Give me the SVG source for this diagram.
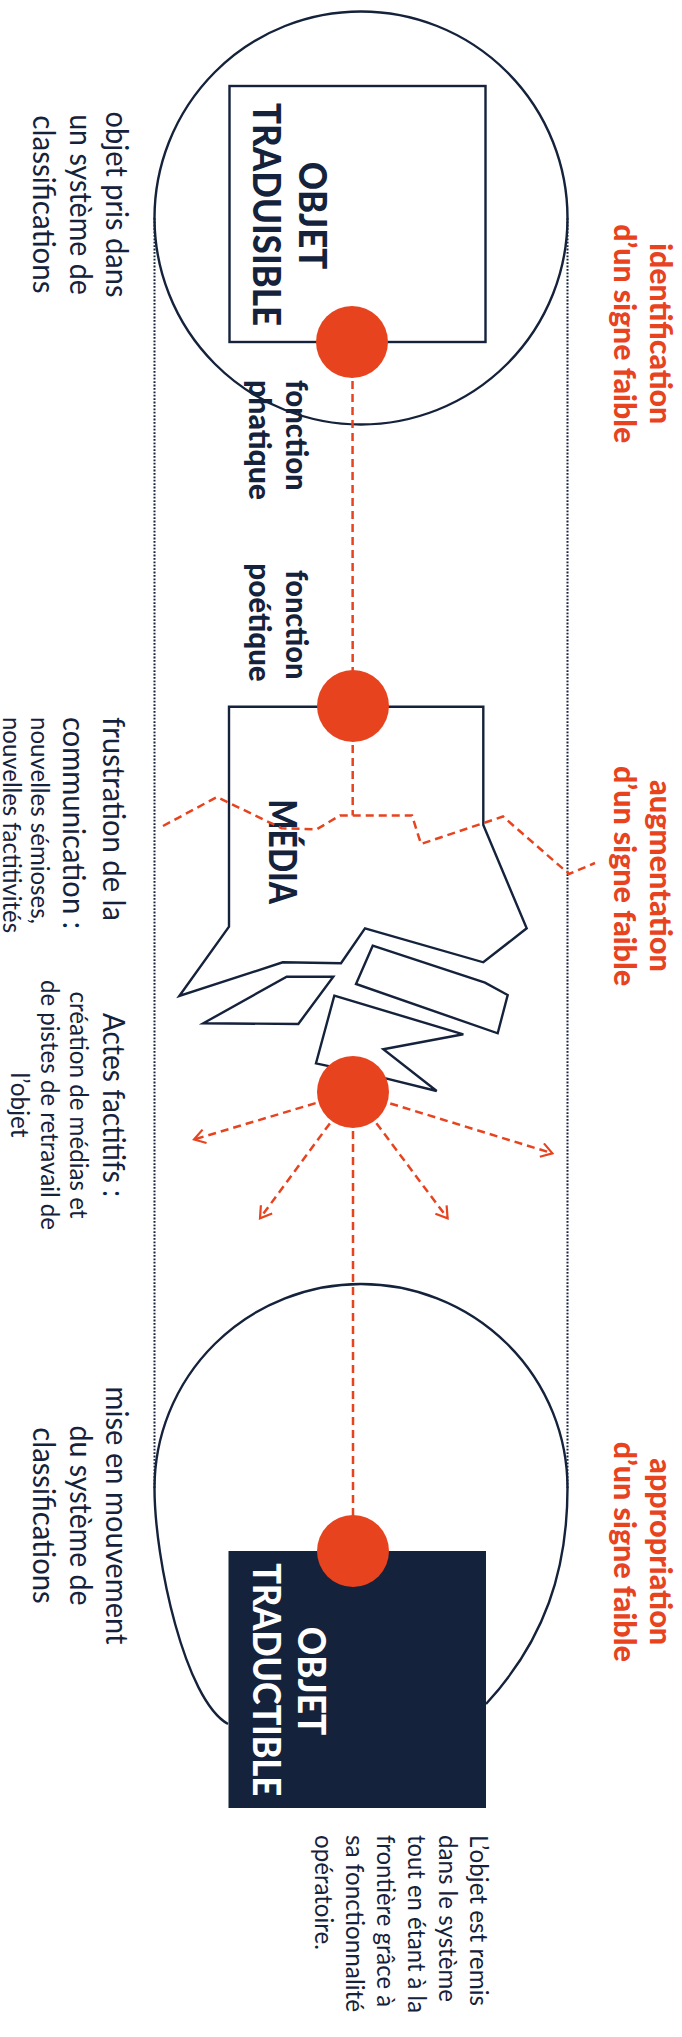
<svg xmlns="http://www.w3.org/2000/svg" width="682" height="2037" viewBox="0 0 682 2037">
<defs>
<style>
.ln{fill:none;stroke:#15223b;stroke-width:2.4}
.dot{fill:none;stroke:#15223b;stroke-width:2;stroke-dasharray:1.8 1.6}
.dash{fill:none;stroke:#e8431f;stroke-width:2.5;stroke-dasharray:8 5}
.rd{fill:#e8431f}
.t{font-family:Lato,"Open Sans","Liberation Sans",sans-serif;fill:#15223b}
.r{font-weight:400}
.b{font-weight:900}
.red{fill:#e8431f;font-weight:900;font-size:30px}
.cap{font-weight:900;font-size:37px}
.wh{fill:#ffffff}
.s30{font-size:30px}
.s25{font-size:25px}
</style>
<marker id="chev" viewBox="0 0 16 16" refX="13" refY="8" markerWidth="16" markerHeight="16" markerUnits="userSpaceOnUse" orient="auto">
<path d="M2,1 L13,8 L2,15" fill="none" stroke="#e8431f" stroke-width="2.2"/>
</marker>
</defs>

<g id="frame">
<circle class="ln" cx="361" cy="218" r="206.5"/>
<path class="ln" d="M228,1724 C185,1700 154.5,1560 154.5,1488 A206.5,204 0 0 1 567.5,1488 C567.5,1570 545,1640 486,1704"/>
<line class="dot" x1="154.5" y1="218" x2="154.5" y2="1488"/>
<line class="dot" x1="567.5" y1="218" x2="567.5" y2="1488"/>
</g>

<g id="objet-traduisible">
<rect class="ln" x="229.5" y="86" width="256" height="256"/>
<text class="t cap" transform="translate(298.5,215.5) rotate(90)" text-anchor="middle" textLength="107.6" lengthAdjust="spacingAndGlyphs">OBJET</text>
<text class="t cap" transform="translate(253,214.5) rotate(90)" text-anchor="middle" textLength="223" lengthAdjust="spacingAndGlyphs">TRADUISIBLE</text>
</g>

<g id="media">
<path class="ln" d="M229,706.7 H483.3 V825 L526.7,928.3 L483.3,962.3 L365,928.3 L341,963.3 L282.7,962.3 L179.3,996 L229,926.7 Z"/>
<path class="ln" d="M286.7,976.7 L333.3,976.7 L298.3,1024 L203.3,1023.3 Z"/>
<path class="ln" d="M372.7,945.7 L485,982.7 L507.7,995 L497.7,1033.3 L356,984 Z"/>
<path class="ln" d="M334.3,995.7 L463.3,1034.3 L383.3,1049.3 L436.7,1091 L385.7,1078.3 L316,1063.3 Z"/>
<text class="t cap" transform="translate(269.3,851.7) rotate(90)" text-anchor="middle" textLength="104.7" lengthAdjust="spacingAndGlyphs">MÉDIA</text>
</g>

<g id="connectors">
<line class="dash" x1="352.5" y1="342" x2="352.7" y2="706"/>
<line class="dash" x1="352.7" y1="706" x2="352.7" y2="815.5"/>
<polyline class="dash" points="163,826 217,797 281.7,828.3 316.7,829.3 340,815.5 412,815.5 421,844 503,816.5 569,874 595,863"/>
<line class="dash" x1="353" y1="1092" x2="194" y2="1139.5" marker-end="url(#chev)"/>
<line class="dash" x1="353" y1="1092" x2="552.4" y2="1153.3" marker-end="url(#chev)"/>
<line class="dash" x1="353" y1="1092" x2="260" y2="1218.3" marker-end="url(#chev)"/>
<line class="dash" x1="353" y1="1092" x2="447.6" y2="1218.3" marker-end="url(#chev)"/>
<line class="dash" x1="353" y1="1092" x2="353" y2="1551"/>
</g>

<g id="objet-traductible">
<rect x="228.5" y="1551" width="257.5" height="257" fill="#15223b"/>
<text class="t cap wh" transform="translate(298.3,1681) rotate(90)" text-anchor="middle" textLength="108.3" lengthAdjust="spacingAndGlyphs">OBJET</text>
<text class="t cap wh" transform="translate(252.7,1679.7) rotate(90)" text-anchor="middle" textLength="232.7" lengthAdjust="spacingAndGlyphs">TRADUCTIBLE</text>
</g>

<g id="points">
<circle class="rd" cx="352" cy="342" r="36"/>
<circle class="rd" cx="353" cy="706" r="36"/>
<circle class="rd" cx="353" cy="1092" r="36"/>
<circle class="rd" cx="353" cy="1551" r="36"/>
</g>

<g id="fonction-phatique">
<text class="t b s30" transform="translate(285.7,380) rotate(90)" textLength="110.7" lengthAdjust="spacingAndGlyphs">fonction</text>
<text class="t b s30" transform="translate(249.3,380) rotate(90)" textLength="120" lengthAdjust="spacingAndGlyphs">phatique</text>
</g>
<g id="fonction-poetique">
<text class="t b s30" transform="translate(285.7,679.5) rotate(90)" text-anchor="end" textLength="109.5" lengthAdjust="spacingAndGlyphs">fonction</text>
<text class="t b s30" transform="translate(249.3,681.7) rotate(90)" text-anchor="end" textLength="118.4" lengthAdjust="spacingAndGlyphs">poétique</text>
</g>

<g id="label-classifications">
<text class="t r s30" transform="translate(106,204.5) rotate(90)" text-anchor="middle" textLength="186" lengthAdjust="spacingAndGlyphs">objet pris dans</text>
<text class="t r s30" transform="translate(69.5,204.5) rotate(90)" text-anchor="middle" textLength="180.7" lengthAdjust="spacingAndGlyphs">un système de</text>
<text class="t r s30" transform="translate(33,204.5) rotate(90)" text-anchor="middle" textLength="178.3" lengthAdjust="spacingAndGlyphs">classifications</text>
</g>

<g id="label-frustration">
<text class="t r s30" transform="translate(103,717) rotate(90)" textLength="204" lengthAdjust="spacingAndGlyphs">frustration de la</text>
<text class="t r s30" transform="translate(63,717) rotate(90)" textLength="212" lengthAdjust="spacingAndGlyphs">communication :</text>
<text class="t r s25" transform="translate(31,717) rotate(90)" textLength="207" lengthAdjust="spacingAndGlyphs">nouvelles sémioses,</text>
<text class="t r s25" transform="translate(3,717) rotate(90)" textLength="216" lengthAdjust="spacingAndGlyphs">nouvelles factitivités</text>
</g>

<g id="label-actes">
<text class="t r s30" transform="translate(103,1105) rotate(90)" text-anchor="middle" textLength="184" lengthAdjust="spacingAndGlyphs">Actes factitifs :</text>
<text class="t r s25" transform="translate(69.5,1105) rotate(90)" text-anchor="middle" textLength="227" lengthAdjust="spacingAndGlyphs">création de médias et</text>
<text class="t r s25" transform="translate(41,1105) rotate(90)" text-anchor="middle" textLength="250" lengthAdjust="spacingAndGlyphs">de pistes de retravail de</text>
<text class="t r s25" transform="translate(11,1105) rotate(90)" text-anchor="middle" textLength="65" lengthAdjust="spacingAndGlyphs">l’objet</text>
</g>

<g id="label-mouvement">
<text class="t r s30" transform="translate(106,1515.5) rotate(90)" text-anchor="middle" textLength="258" lengthAdjust="spacingAndGlyphs">mise en mouvement</text>
<text class="t r s30" transform="translate(69.5,1515.5) rotate(90)" text-anchor="middle" textLength="180" lengthAdjust="spacingAndGlyphs">du système de</text>
<text class="t r s30" transform="translate(33,1515.5) rotate(90)" text-anchor="middle" textLength="176.5" lengthAdjust="spacingAndGlyphs">classifications</text>
</g>

<g id="label-remis">
<text class="t r s25" transform="translate(470,1835) rotate(90)" textLength="171" lengthAdjust="spacingAndGlyphs">L’objet est remis</text>
<text class="t r s25" transform="translate(439,1835) rotate(90)" textLength="167" lengthAdjust="spacingAndGlyphs">dans le système</text>
<text class="t r s25" transform="translate(408,1835) rotate(90)" textLength="178" lengthAdjust="spacingAndGlyphs">tout en étant à la</text>
<text class="t r s25" transform="translate(377,1835) rotate(90)" textLength="172" lengthAdjust="spacingAndGlyphs">frontière grâce à</text>
<text class="t r s25" transform="translate(346,1835) rotate(90)" textLength="177" lengthAdjust="spacingAndGlyphs">sa fonctionnalité</text>
<text class="t r s25" transform="translate(315,1835) rotate(90)" textLength="115" lengthAdjust="spacingAndGlyphs">opératoire.</text>
</g>

<g id="label-identification">
<text class="t red" transform="translate(650,333.7) rotate(90)" text-anchor="middle" textLength="181" lengthAdjust="spacingAndGlyphs">identification</text>
<text class="t red" transform="translate(614,333.7) rotate(90)" text-anchor="middle" textLength="219" lengthAdjust="spacingAndGlyphs">d’un signe faible</text>
</g>
<g id="label-augmentation">
<text class="t red" transform="translate(650,876) rotate(90)" text-anchor="middle" textLength="192" lengthAdjust="spacingAndGlyphs">augmentation</text>
<text class="t red" transform="translate(614,876) rotate(90)" text-anchor="middle" textLength="220" lengthAdjust="spacingAndGlyphs">d’un signe faible</text>
</g>
<g id="label-appropriation">
<text class="t red" transform="translate(650,1551.7) rotate(90)" text-anchor="middle" textLength="187" lengthAdjust="spacingAndGlyphs">appropriation</text>
<text class="t red" transform="translate(614,1551.7) rotate(90)" text-anchor="middle" textLength="220" lengthAdjust="spacingAndGlyphs">d’un signe faible</text>
</g>
</svg>
